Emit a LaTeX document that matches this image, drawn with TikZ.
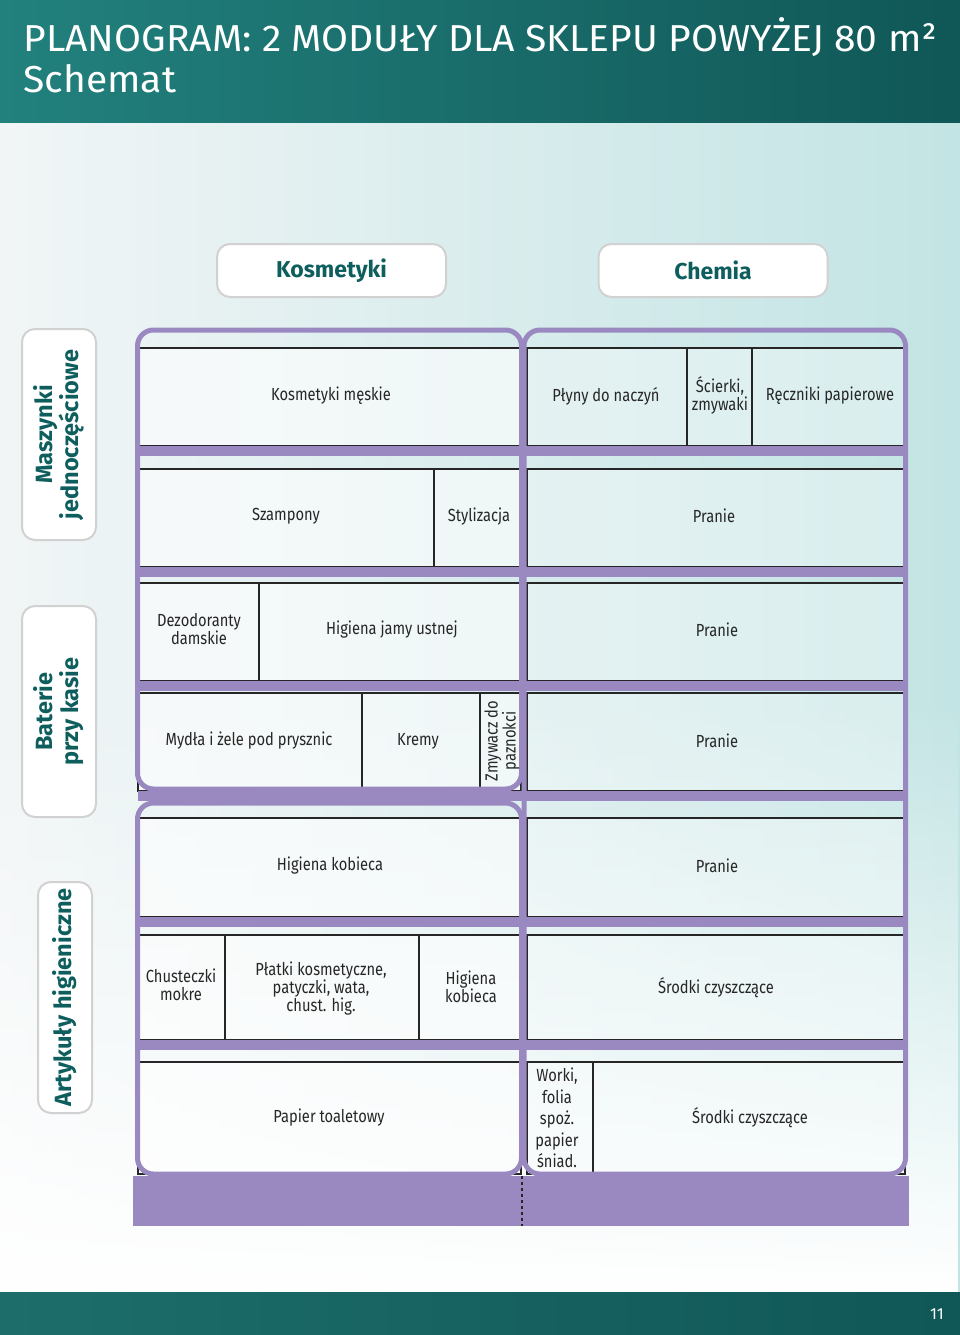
\documentclass[tikz,border=0pt]{standalone}
\usepackage{fontspec}
\setmainfont{Fira Sans}
\newfontfamily\cellfont[FakeStretch=0.84]{Fira Sans}
\newfontfamily\headfont[FakeStretch=1.04]{Fira Sans}
\usetikzlibrary{fadings}

\definecolor{hdrL}{HTML}{22817D}
\definecolor{hdrR}{HTML}{105757}
\definecolor{tealtxt}{HTML}{0E5E5E}
\definecolor{shelf}{HTML}{9A89C1}
\definecolor{bgL}{HTML}{F1F5F6}
\definecolor{bgR}{HTML}{C3E4E4}

\tikzset{
  tab/.style={draw=black!18, line width=2pt, fill=white, rounded corners=13pt,
              text=tealtxt, font=\fontsize{23}{26}\selectfont\bfseries, align=center},
  frame/.style={draw=shelf, line width=5pt, rounded corners=16pt},
  cell/.style={font=\cellfont\fontsize{17.5}{18}\selectfont, align=center, text=black!85},
  cellline/.style={draw=black!85, line width=1.5pt}
}

\begin{document}
\begin{tikzpicture}[x=1pt,y=-1pt]

\useasboundingbox (0,0) rectangle (960,1335);

% background
\shade[left color=bgL, right color=bgR] (0,123) rectangle (960,1292);
\fill[white, path fading=north] (0,700) rectangle (960,1292);

% header and footer
\shade[left color=hdrL, right color=hdrR] (0,0) rectangle (960,123);
\shade[left color=hdrL!85!black, right color=hdrR] (0,1292) rectangle (960,1335);
\node[anchor=base west, text=white, font=\headfont\fontsize{37.5}{40}\selectfont] (title) at (20,52)
    {PLANOGRAM: 2 MODUŁY DLA SKLEPU POWYŻEJ 80 m²};
\node[anchor=base west, text=white, font=\headfont\fontsize{37.5}{40}\selectfont] (subtitle) at (20,93) {Schemat};
\node[text=white, font=\fontsize{16}{18}\selectfont] (page) at (937,1314) {11};

% tabs
\node[tab, minimum width=229pt, minimum height=53pt] (kosm) at (331.5,270.5) {Kosmetyki};
\node[tab, minimum width=229pt, minimum height=53pt] (chem) at (713,270.5) {Chemia};

\node[tab, rotate=90, minimum width=211pt, minimum height=74pt, font=\fontsize{23.5}{26}\selectfont\bfseries]
    (masz) at (59,434.5) {Maszynki\\jednoczęściowe};
\node[tab, rotate=90, minimum width=211pt, minimum height=74pt, font=\fontsize{23.5}{26}\selectfont\bfseries]
    (bat) at (59,711.5) {Baterie\\przy kasie};
\node[tab, rotate=90, minimum width=231pt, minimum height=54pt, font=\fontsize{23.5}{26}\selectfont\bfseries]
    (art) at (65,997.5) {Artykuły higieniczne};

% shelves: rows of cells
\foreach \t/\b in {348/446, 469/567, 583/681, 693/791, 818/917, 935/1040, 1062/1174} {
    \fill[white, opacity=0.6] (138,\t) rectangle (521,\b);
    \fill[white, opacity=0.35] (527,\t) rectangle (905,\b);
    \draw[cellline] (138,\t) rectangle (521,\b);
    \draw[cellline] (527,\t) rectangle (905,\b);
}

% dividers
\foreach \x/\t/\b in {687/348/446, 752/348/446, 434/469/567, 259/583/681,
                      362/693/791, 480/693/791, 225/935/1040, 419/935/1040, 593/1062/1174}
    \draw[cellline] (\x,\t) -- (\x,\b);

% purple shelf boards
\foreach \b in {446, 567, 681, 791, 917, 1040}
    \fill[shelf] (138,\b) rectangle (905,\b+10);
\fill[shelf] (133,1176) rectangle (909,1226);
\draw[black!85, line width=1.3pt, dash pattern=on 3pt off 3pt] (522,1176) -- (522,1226);

% frames of the two modules
\draw[frame] (137.5,330) rectangle (521.5,789);
\draw[frame] (137.5,803) rectangle (521.5,1174);
\draw[frame] (524,330) rectangle (905.5,1174);

% labels
\node[cell] (kmes) at (331,396) {Kosmetyki męskie};
\node[cell] (plyny) at (606,396) {Płyny do naczyń};
\node[cell] (scier) at (720,395) {Ścierki,\\zmywaki};
\node[cell] (recz) at (830,396) {Ręczniki papierowe};

\node[cell] (szamp) at (286,516) {Szampony};
\node[cell] (styl) at (479,517) {Stylizacja};
\node[cell] (pran1) at (714,516) {Pranie};

\node[cell] (dezo) at (199,629) {Dezodoranty\\damskie};
\node[cell] (jamy) at (392,630) {Higiena jamy ustnej};
\node[cell] (pran2) at (717,630) {Pranie};

\node[cell] (myd) at (249,741) {Mydła i żele pod prysznic};
\node[cell] (krem) at (418,741) {Kremy};
\node[cell, rotate=90] (zmyw) at (502,741) {Zmywacz do\\paznokci};
\node[cell] (pran3) at (717,741) {Pranie};

\node[cell] (hkob1) at (330,866) {Higiena kobieca};
\node[cell] (pran4) at (717,866) {Pranie};

\node[cell] (chus) at (181,985) {Chusteczki\\mokre};
\node[cell] (platk) at (321,989) {Płatki kosmetyczne,\\patyczki, wata,\\chust. hig.};
\node[cell] (hkob2) at (471,987) {Higiena\\kobieca};
\node[cell] (srod1) at (716,988) {Środki czyszczące};

\node[cell] (papt) at (329,1118) {Papier toaletowy};
\node[cell] (work) at (557,1118) {Worki,\\[3.5pt]folia\\[3.5pt]spoż.\\[3.5pt]papier\\[3.5pt]śniad.};
\node[cell] (srod2) at (750,1118) {Środki czyszczące};

\end{tikzpicture}
\end{document}
